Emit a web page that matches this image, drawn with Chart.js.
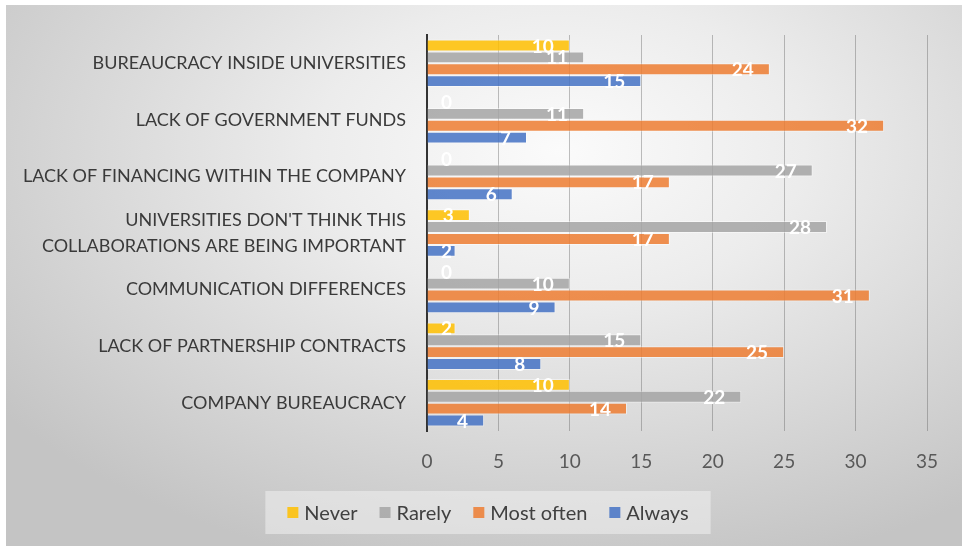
<!DOCTYPE html>
<html><head><meta charset="utf-8">
<script src="https://cdn.jsdelivr.net/npm/chart.js@4.4.0/dist/chart.umd.min.js"></script>
<style>html,body{margin:0;padding:0;background:#fff;} #wrap{position:relative;width:962px;height:546px;}</style>
</head><body><div id="wrap"><canvas id="c" width="962" height="546"></canvas></div>
<script>
const categories = [
  "BUREAUCRACY INSIDE UNIVERSITIES",
  "LACK OF GOVERNMENT FUNDS",
  "LACK OF FINANCING WITHIN THE COMPANY",
  ["UNIVERSITIES DON'T THINK THIS", "COLLABORATIONS ARE BEING IMPORTANT"],
  "COMMUNICATION DIFFERENCES",
  "LACK OF PARTNERSHIP CONTRACTS",
  "COMPANY BUREAUCRACY"
];
const seriesNames = ["Never", "Rarely", "Most often", "Always"];
const never = [10, 0, 0, 3, 0, 2, 10];
const rarely = [11, 11, 27, 28, 10, 15, 22];
const mostOften = [24, 32, 17, 17, 31, 25, 14];
const always = [15, 7, 6, 2, 9, 8, 4];
const xTicks = [0, 5, 10, 15, 20, 25, 30, 35];
const seriesColors = ["rgba(255,192,0,0.85)", "rgba(165,165,165,0.85)", "rgba(237,125,49,0.85)", "rgba(68,114,196,0.85)"];

const FONT = "Lato";

const bgPlugin = {
  id: 'bg',
  beforeDraw(chart) {
    const ctx = chart.ctx;
    const W = chart.width, H = chart.height;
    ctx.save();
    ctx.fillStyle = '#ffffff';
    ctx.fillRect(0, 0, W, H);
    const x0 = 6, y0 = 5;
    ctx.beginPath();
    ctx.rect(x0, y0, W - x0, H - y0);
    ctx.clip();
    const cx = 560, cy = 150;
    ctx.translate(cx, cy);
    ctx.scale(1, 0.62);
    const g = ctx.createRadialGradient(0, 0, 0, 0, 0, 700);
    g.addColorStop(0, '#fbfbfb');
    g.addColorStop(0.35, '#ececec');
    g.addColorStop(1, '#c4c4c4');
    ctx.fillStyle = g;
    ctx.fillRect(-cx, -cy / 0.62, W * 2, H * 3);
    ctx.restore();
  }
};

const labelPlugin = {
  id: 'vals',
  afterDatasetsDraw(chart) {
    const ctx = chart.ctx;
    const xs = chart.scales.x;
    const base = xs.getPixelForValue(0);
    ctx.save();
    ctx.font = `bold 19px ${FONT}`;
    ctx.fillStyle = '#ffffff';
    ctx.textBaseline = 'middle';
    ctx.textAlign = 'left';
    chart.data.datasets.forEach((ds, di) => {
      const meta = chart.getDatasetMeta(di);
      meta.data.forEach((bar, i) => {
        const v = ds.data[i];
        const t = String(v);
        const w = ctx.measureText(t).width;
        const left = Math.max(bar.x - 16 - w, base + 14);
        ctx.fillText(t, left, bar.y + 1);
      });
    });
    ctx.restore();
  }
};

const legendPlugin = {
  id: 'customLegend',
  afterDraw(chart) {
    const ctx = chart.ctx;
    ctx.save();
    ctx.font = `20px ${FONT}`;
    const box = 11, gapText = 6, gapItem = 22, padX = 22;
    const widths = seriesNames.map(n => box + gapText + ctx.measureText(n).width);
    const total = widths.reduce((a, b) => a + b, 0) + gapItem * (seriesNames.length - 1);
    const cx = 488;
    const bx = cx - total / 2 - padX;
    const by = 491, bh = 43;
    ctx.fillStyle = 'rgba(240,240,240,0.55)';
    ctx.fillRect(bx, by, total + padX * 2, bh);
    let x = cx - total / 2;
    const cy = by + bh / 2;
    ctx.textBaseline = 'middle';
    ctx.textAlign = 'left';
    seriesNames.forEach((n, i) => {
      ctx.fillStyle = seriesColors[i];
      ctx.fillRect(x, cy - box / 2, box, box);
      ctx.fillStyle = '#404040';
      ctx.fillText(n, x + box + gapText, cy + 1);
      x += widths[i] + gapItem;
    });
    ctx.restore();
  }
};

const seriesData = [never, rarely, mostOften, always];

function draw() {
  new Chart(document.getElementById('c'), {
    type: 'bar',
    data: {
      labels: categories,
      datasets: seriesNames.map((n, i) => ({
        label: n,
        data: seriesData[i],
        backgroundColor: seriesColors[i],
        borderColor: 'rgba(255,255,255,0.45)',
        borderWidth: 1,
        barPercentage: 1.0,
        categoryPercentage: 0.84
      }))
    },
    options: {
      indexAxis: 'y',
      responsive: false,
      animation: false,
      devicePixelRatio: 1,
      layout: { padding: { top: 35, right: 35, bottom: 0, left: 0 } },
      plugins: { legend: { display: false }, tooltip: { enabled: false } },
      scales: {
        x: {
          min: 0, max: 35,
          afterBuildTicks(scale) { scale.ticks = xTicks.map(v => ({ value: v })); },
          afterFit(scale) { scale.height = 115; },
          grid: { color: 'rgba(90,90,90,0.38)', lineWidth: 1, drawTicks: false },
          border: { display: false },
          ticks: { color: '#595959', font: { family: FONT, size: 19 }, padding: 19 }
        },
        y: {
          afterFit(scale) { scale.width = 427; },
          grid: { display: false, drawTicks: false },
          border: { display: true, color: '#333333', width: 2 },
          ticks: { color: '#3a3a3a', font: { family: FONT, size: 18, lineHeight: 1.45 }, padding: 21 }
        }
      }
    },
    plugins: [bgPlugin, labelPlugin, legendPlugin]
  });
}
if (document.fonts && document.fonts.load) {
  Promise.all([document.fonts.load(`18px ${FONT}`), document.fonts.load(`bold 19px ${FONT}`)]).then(draw, draw);
} else draw();
</script></body></html>
